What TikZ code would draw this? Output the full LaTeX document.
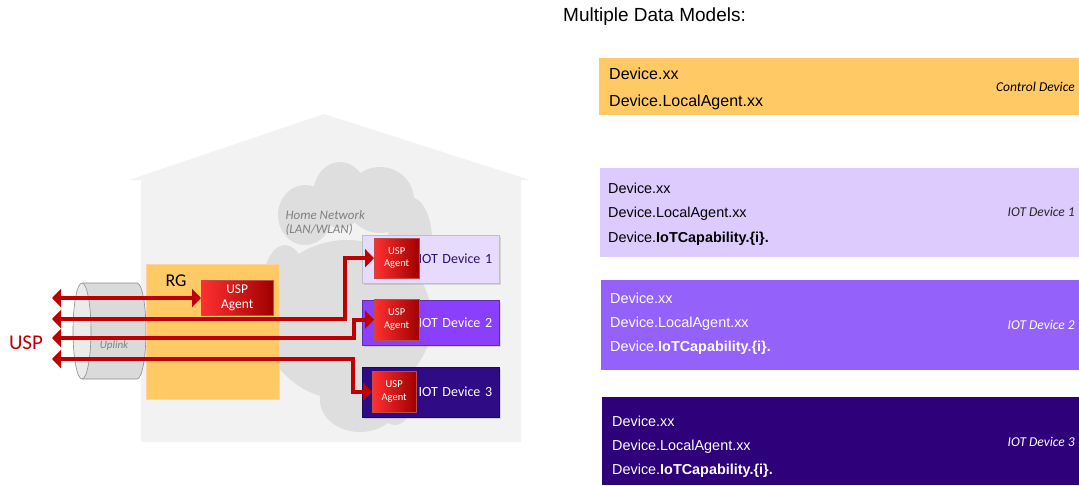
\documentclass[tikz,border=0pt]{standalone}
\usepackage{fontspec}
\setmainfont{Liberation Sans}
\newfontfamily\calibri{Carlito}
\usetikzlibrary{arrows.meta,shadows}

\definecolor{housegrey}{HTML}{F2F2F2}
\definecolor{cloudgrey}{HTML}{DEDEDE}
\definecolor{cylgrey}{HTML}{DADADA}
\definecolor{rgyellow}{HTML}{FFCA66}
\definecolor{iotone}{HTML}{DCCBFC}
\definecolor{iottwo}{HTML}{9461FB}
\definecolor{iotthree}{HTML}{2E0079}
\definecolor{leftone}{HTML}{E6DAFD}
\definecolor{lefttwo}{HTML}{8A3FFC}
\definecolor{leftthree}{HTML}{2F0C86}
\definecolor{uspred}{HTML}{C00000}
\definecolor{agentlight}{HTML}{FF3030}
\definecolor{agentdark}{HTML}{A00000}
\definecolor{darkpurple}{HTML}{2E1070}

\begin{document}
\begin{tikzpicture}[x=1pt, y=-1pt,
  agent/.style={rectangle, anchor=north west, inner sep=0pt, left color=agentlight, right color=agentdark,
    draw=agentdark!70, text=white, align=center, font=\calibri\fontsize{10.5}{12.5}\selectfont},
  iotbox/.style={rectangle, anchor=north west, inner ysep=0pt, inner xsep=7pt, minimum width=137,
    text width=123, align=right, drop shadow={opacity=0.25, shadow xshift=1.5pt, shadow yshift=-1.5pt},
    font=\calibri\fontsize{14}{16}\selectfont},
  modelbox/.style={rectangle, anchor=north west, inner sep=0pt, draw=none},
  modeltext/.style={anchor=base west, inner sep=0pt, font=\fontsize{14.4}{17}\selectfont},
  modellabel/.style={anchor=east, inner sep=0pt, font=\calibri\itshape\fontsize{13.5}{15}\selectfont},
  usplink/.style={draw=uspred, line width=4pt, {Triangle[length=9pt,width=18pt]}-{Triangle[length=9pt,width=18pt]}}]
  \useasboundingbox (0,0) rectangle (1079,485);

  % house and home network cloud
  \fill[housegrey] (129,180) -- (324,114) -- (530,180) -- (521,180) -- (521,442) -- (141,442) -- (141,180) -- cycle;
  \fill[cloudgrey] (305,215) ellipse[x radius=27, y radius=30]
    (340,195) ellipse[x radius=27, y radius=33]
    (380,200) ellipse[x radius=34, y radius=33]
    (410,240) ellipse[x radius=22, y radius=43]
    (347,320) ellipse[x radius=85, y radius=80]
    (285,290) ellipse[x radius=23, y radius=45]
    (360,400) ellipse[x radius=40, y radius=32]
    (395,390) ellipse[x radius=20, y radius=35];
  \node[anchor=north west, align=left, text=black!50, font=\calibri\itshape\fontsize{13}{14}\selectfont] (homenet) at (282,207) {Home Network\\(LAN/WLAN)};

  % uplink cylinder
  \path[fill=cylgrey, draw=black!45, line width=0.6pt] (82,283) -- (137,283) arc[start angle=-90, end angle=90, x radius=9, y radius=48] -- (82,379);
  \path[fill=black!8, draw=black!45, line width=0.6pt] (82,331) ellipse[x radius=9, y radius=48];
  \node[text=black!50, font=\calibri\itshape\fontsize{11}{13}\selectfont] (uplink) at (114,346) {Uplink};
  \node[text=uspred, font=\calibri\fontsize{21}{24}\selectfont] (usp) at (26,343) {USP};

  % residential gateway
  \node[modelbox, fill=rgyellow, draw=orange!35, minimum width=133, minimum height=135] (rg) at (146,264) {};
  \node[font=\calibri\fontsize{18}{20}\selectfont] (rglabel) at (176,281) {RG};
  \node[agent, minimum width=72, minimum height=35, font=\calibri\fontsize{13.5}{15}\selectfont] (rgagent) at (201,280) {USP\\Agent};

  % iot devices
  \node[iotbox, fill=leftone, draw=black!25, text=darkpurple, minimum height=48] (iot1) at (362,235) {IOT Device 1};
  \node[iotbox, fill=lefttwo, draw=lefttwo!70!black, text=white, minimum height=45] (iot2) at (362,300) {IOT Device 2};
  \node[iotbox, fill=leftthree, draw=leftthree!70!black, text=white, minimum height=50] (iot3) at (362,367) {IOT Device 3};
  \node[agent, minimum width=45, minimum height=40] (agent1) at (374,238) {USP\\Agent};
  \node[agent, minimum width=45, minimum height=41] (agent2) at (374,299) {USP\\Agent};
  \node[agent, minimum width=44, minimum height=41] (agent3) at (372,371) {USP\\Agent};

  \coordinate (out1) at (52,298);
  \coordinate (out2) at (52,319);
  \coordinate (out3) at (52,338);
  \coordinate (out4) at (52,359);
  \draw[usplink] (out1) -- (out1 -| rgagent.west);
  \draw[usplink] (out2) -- ++(293,0) |- (agent1.west);
  \draw[usplink] (out3) -- ++(302,0) |- (agent2.west);
  \draw[usplink] (out4) -- ++(301,0) |- (agent3.west);

  % data models
  \node[anchor=west, inner sep=0pt, font=\fontsize{19}{22}\selectfont] (title) at (563,17) {Multiple Data Models:};

  \node[modelbox, fill=rgyellow, minimum width=480, minimum height=57] (ctrl) at (599,58) {};
  \node[modeltext, font=\fontsize{16}{19}\selectfont] (ctrl1) at (609,79) {Device.xx};
  \node[modeltext, font=\fontsize{16}{19}\selectfont] (ctrl2) at (609,106) {Device.LocalAgent.xx};
  \node[modellabel] (ctrllabel) at (1075,87) {Control Device};

  \node[modelbox, fill=iotone, minimum width=479, minimum height=89] (dm1) at (600,168) {};
  \node[modeltext] (dm1a) at (608,193) {Device.xx};
  \node[modeltext] (dm1b) at (608,217) {Device.LocalAgent.xx};
  \node[modeltext] (dm1c) at (608,242) {Device.\textbf{IoTCapability.\{i\}.}};
  \node[modellabel, text=black!85] (dm1label) at (1075,212) {IOT Device 1};

  \node[modelbox, fill=iottwo, minimum width=478, minimum height=90] (dm2) at (601,280) {};
  \node[modeltext, text=white] (dm2a) at (610,303) {Device.xx};
  \node[modeltext, text=white] (dm2b) at (610,327) {Device.LocalAgent.xx};
  \node[modeltext, text=white] (dm2c) at (610,351) {Device.\textbf{IoTCapability.\{i\}.}};
  \node[modellabel, text=white] (dm2label) at (1075,325) {IOT Device 2};

  \node[modelbox, fill=iotthree, minimum width=477, minimum height=88] (dm3) at (602,397) {};
  \node[modeltext, text=white] (dm3a) at (612,426) {Device.xx};
  \node[modeltext, text=white] (dm3b) at (612,450) {Device.LocalAgent.xx};
  \node[modeltext, text=white] (dm3c) at (612,474) {Device.\textbf{IoTCapability.\{i\}.}};
  \node[modellabel, text=white] (dm3label) at (1075,442) {IOT Device 3};
\end{tikzpicture}
\end{document}
